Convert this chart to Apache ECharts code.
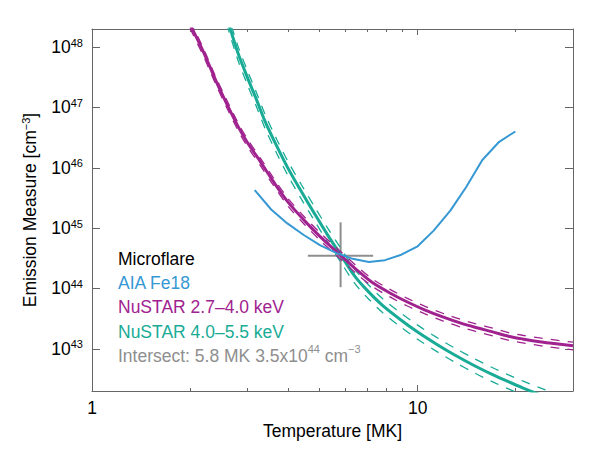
<!DOCTYPE html>
<html>
<head>
<meta charset="utf-8">
<script src="https://cdn.jsdelivr.net/npm/echarts@6/dist/echarts.min.js"></script>
<style>
html,body{margin:0;padding:0;background:#fff;}
#chart{width:600px;height:450px;}
</style>
</head>
<body>
<div id="chart"></div>
<script>
// NuSTAR 2.7-4.0 keV EM locus (T in MK, EM in cm^-3), with dashed error curves
var tempNu27 = [1.9, 2.0, 2.2, 2.4, 2.6, 2.8, 3.0, 3.3, 3.6, 4.0, 4.5, 5.0, 5.8, 6.5, 7.3, 8.3, 9.3, 10.5, 12, 13.5, 15, 17, 19, 21, 24, 27, 30];
var emNu27   = [4.3e48, 2.4e48, 8.3e47, 2.8e47, 1.12e47, 5.0e46, 2.63e46, 1.23e46, 6.0e45, 2.7e45, 1.32e45, 7.4e44, 3.55e44, 2.04e44, 1.23e44, 8.2e43, 5.97e43, 4.44e43, 3.35e43, 2.69e43, 2.28e43, 1.91e43, 1.62e43, 1.46e43, 1.30e43, 1.20e43, 1.12e43];
var emNu27Hi = [4.9e48, 2.76e48, 9.5e47, 3.2e47, 1.29e47, 5.75e46, 3.0e46, 1.41e46, 6.9e45, 3.1e45, 1.52e45, 8.5e44, 4.1e44, 2.35e44, 1.41e44, 9.4e43, 6.87e43, 5.1e43, 3.85e43, 3.1e43, 2.62e43, 2.2e43, 1.86e43, 1.68e43, 1.5e43, 1.38e43, 1.29e43];
var emNu27Lo = [3.7e48, 2.06e48, 7.1e47, 2.4e47, 9.6e46, 4.3e46, 2.26e46, 1.06e46, 5.2e45, 2.32e45, 1.14e45, 6.4e44, 3.05e44, 1.75e44, 1.06e44, 7.05e43, 5.13e43, 3.82e43, 2.88e43, 2.31e43, 1.96e43, 1.64e43, 1.39e43, 1.26e43, 1.12e43, 1.03e43, 9.6e42];

// NuSTAR 4.0-5.5 keV EM locus
var tempNu40 = [2.5, 2.6, 2.8, 3.0, 3.2, 3.4, 3.7, 4.0, 4.4, 4.8, 5.3, 5.8, 6.4, 7.0, 7.8, 8.8, 10, 11.5, 13, 15, 17, 19, 21, 24, 27, 30];
var emNu40   = [5.9e48, 3.0e48, 8.3e47, 3.16e47, 1.35e47, 5.9e46, 2.24e46, 9.8e45, 4.0e45, 1.82e45, 7.6e44, 3.63e44, 1.62e44, 9.3e43, 5.25e43, 3.13e43, 1.9e43, 1.17e43, 7.9e42, 5.2e42, 3.74e42, 2.85e42, 2.26e42, 1.7e42, 1.34e42, 1.1e42];
var emNu40Hi = [7.7e48, 3.9e48, 1.08e48, 4.1e47, 1.76e47, 7.7e46, 2.9e46, 1.27e46, 5.2e45, 2.37e45, 9.9e44, 4.7e44, 2.1e44, 1.21e44, 6.8e43, 4.07e43, 2.47e43, 1.52e43, 1.03e43, 6.8e42, 4.86e42, 3.7e42, 2.94e42, 2.21e42, 1.74e42, 1.43e42];
var emNu40Lo = [4.5e48, 2.28e48, 6.3e47, 2.4e47, 1.03e47, 4.5e46, 1.7e46, 7.4e45, 3.0e45, 1.38e45, 5.8e44, 2.76e44, 1.23e44, 7.1e43, 4.0e43, 2.38e43, 1.44e43, 8.9e42, 6.0e42, 3.95e42, 2.84e42, 2.17e42, 1.72e42, 1.29e42, 1.02e42, 8.4e41];

// AIA Fe18 EM locus
var tempAia = [3.16, 3.55, 3.98, 4.47, 5.01, 5.62, 6.31, 7.08, 7.94, 8.91, 10.0, 11.2, 12.6, 14.1, 15.8, 17.8, 19.95];
var emAia   = [4.27e45, 2.04e45, 1.2e45, 7.7e44, 5.25e44, 3.9e44, 3.1e44, 2.75e44, 2.95e44, 3.63e44, 5.0e44, 9.1e44, 1.95e45, 4.8e45, 1.35e46, 2.7e46, 4.0e46];

// intersect point with its range: [low, centre, high]
var crossT  = [4.6, 5.8, 7.3];
var crossEM = [1.05e44, 3.5e44, 1.25e45];

var xMinorTicks = [2, 3, 4, 5, 6, 7, 8, 9, 20];

var purple = '#a0228f';
var teal = '#19ab96';
var blue = '#3698d3';
var grey = '#8e8e8e';
var axisCol = '#666';
var font = '"Liberation Sans", Arial, Helvetica, sans-serif';
var fs = 17.5;
var intersectName = 'Intersect: 5.8 MK 3.5x10^44 cm^-3';

function pairs(xs, ys) {
    return xs.map(function (x, i) { return [x, ys[i]]; });
}
function isDecade(v) {
    var e = Math.log10(v);
    return Math.abs(e - Math.round(e)) < 0.01;
}
function dashed(name, xs, ys, color) {
    return {
        name: name, type: 'line', data: pairs(xs, ys), showSymbol: false, silent: true,
        smooth: 0.3, lineStyle: { color: color, width: 1.3, type: [9, 8] }
    };
}
function solid(name, xs, ys, color, w, sm) {
    return {
        name: name, type: 'line', data: pairs(xs, ys), showSymbol: false, silent: true,
        smooth: sm, itemStyle: { color: color }, lineStyle: { color: color, width: w }
    };
}

var chart = echarts.init(document.getElementById('chart'), null, { renderer: 'svg' });

var logX = {
    type: 'log', logBase: 10, min: 1, max: 30, gridIndex: 0,
    axisLine: { onZero: false, lineStyle: { color: axisCol, width: 1 } },
    axisTick: { inside: true, length: 6, lineStyle: { color: axisCol } },
    splitLine: { show: false }
};
var minorX = {
    type: 'value', min: 0, max: Math.log10(30), gridIndex: 0,
    axisLine: { show: false },
    axisTick: { inside: true, length: 3, customValues: xMinorTicks.map(Math.log10), lineStyle: { color: axisCol } },
    axisLabel: { show: false },
    splitLine: { show: false }
};
var logY = {
    type: 'log', logBase: 10, min: 2e42, max: 2e48,
    axisLine: { onZero: false, lineStyle: { color: axisCol, width: 1 } },
    axisTick: { inside: true, length: 8, lineStyle: { color: axisCol } },
    splitLine: { show: false }
};

var option = {
    backgroundColor: '#fff',
    animation: false,
    textStyle: { fontFamily: font },
    grid: { left: 92, right: 27, top: 29, bottom: 59 },
    title: {
        text: 'Microflare', left: 118, top: 247, padding: 0,
        textStyle: { fontSize: fs, fontWeight: 'normal', color: '#000', fontFamily: font, lineHeight: 24 }
    },
    legend: {
        orient: 'vertical', left: 112, top: 271, padding: 0, itemGap: 0.3,
        itemWidth: 1, itemHeight: 1, icon: 'none', selectedMode: false,
        textStyle: { fontSize: fs, fontFamily: font, lineHeight: 24 },
        formatter: function (name) {
            if (name === intersectName) return 'Intersect: 5.8 MK 3.5x10{s|44} cm{s|\u22123}';
            return name;
        },
        data: [
            { name: 'AIA Fe18', textStyle: { color: blue } },
            { name: 'NuSTAR 2.7\u20134.0 keV', textStyle: { color: purple } },
            { name: 'NuSTAR 4.0\u20135.5 keV', textStyle: { color: teal } },
            { name: intersectName, textStyle: { color: grey, rich: { s: { color: grey, fontSize: 11, lineHeight: 15, verticalAlign: 'top', fontFamily: font } } } }
        ]
    },
    xAxis: [
        Object.assign({}, logX, {
            position: 'bottom',
            name: 'Temperature [MK]', nameLocation: 'middle', nameGap: 27,
            nameTextStyle: { fontSize: fs, color: '#000', fontFamily: font },
            axisLabel: {
                margin: 8, fontSize: fs, color: '#000', fontFamily: font,
                formatter: function (v) { return isDecade(v) ? String(Math.round(v)) : ''; }
            }
        }),
        Object.assign({}, minorX, { position: 'bottom' }),
        Object.assign({}, logX, { position: 'top', axisLabel: { show: false } }),
        Object.assign({}, minorX, { position: 'top' })
    ],
    yAxis: [
        Object.assign({}, logY, {
            position: 'left',
            name: 'Emission Measure [cm{s|\u22123}]', nameLocation: 'middle', nameGap: 44,
            nameTextStyle: {
                fontSize: fs, color: '#000', fontFamily: font, lineHeight: 20,
                rich: { s: { fontSize: 11, lineHeight: 11, verticalAlign: 'top', color: '#000', fontFamily: font } }
            },
            axisLabel: {
                margin: 9, color: '#000', fontFamily: font, fontSize: fs, lineHeight: 20,
                formatter: function (v) {
                    if (!isDecade(v)) return '';
                    return '{b|10}{s|' + Math.round(Math.log10(v)) + '}';
                },
                rich: {
                    b: { fontSize: fs, lineHeight: 20, color: '#000', fontFamily: font },
                    s: { fontSize: 11, lineHeight: 11, verticalAlign: 'top', color: '#000', fontFamily: font }
                }
            }
        }),
        Object.assign({}, logY, { position: 'right', axisLabel: { show: false } })
    ],
    series: [
        solid(intersectName, [crossT[0], crossT[2]], [crossEM[1], crossEM[1]], grey, 2, false),
        solid(intersectName, [crossT[1], crossT[1]], [crossEM[0], crossEM[2]], grey, 2, false),
        dashed('nu40hi', tempNu40, emNu40Hi, teal),
        dashed('nu40lo', tempNu40, emNu40Lo, teal),
        solid('NuSTAR 4.0\u20135.5 keV', tempNu40, emNu40, teal, 3, 0.3),
        dashed('nu27hi', tempNu27, emNu27Hi, purple),
        dashed('nu27lo', tempNu27, emNu27Lo, purple),
        solid('NuSTAR 2.7\u20134.0 keV', tempNu27, emNu27, purple, 3, 0.3),
        solid('AIA Fe18', tempAia, emAia, blue, 2, false)
    ]
};
chart.setOption(option);
</script>
</body>
</html>
